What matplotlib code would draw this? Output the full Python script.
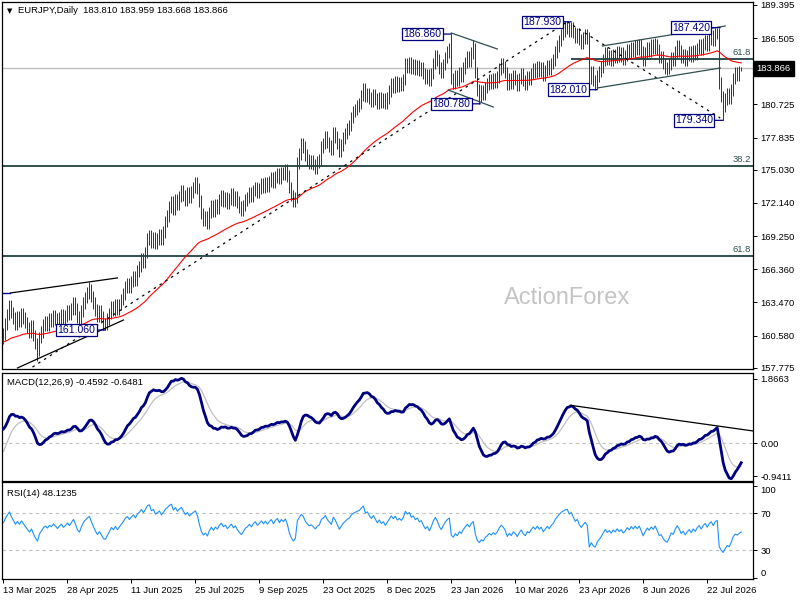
import numpy as np
import matplotlib
matplotlib.use("Agg")
import matplotlib.pyplot as plt
import matplotlib.transforms as mtransforms

plt.rcParams['font.family'] = ['Liberation Sans', 'DejaVu Sans']

# ---------------- data ----------------
title_text = "EURJPY,Daily  183.810 183.959 183.668 183.866"
macd_text = "MACD(12,26,9) -0.4592 -0.6481"
rsi_text = "RSI(14) 48.1235"
last_ohlc = [183.810, 183.959, 183.668, 183.866]
prev_close = 160.3

closes = [
    160.7, 161.6, 162.4, 163.2, 162.6, 162.1, 161.6, 162.2, 161.8, 162.5, 162.1, 161.7, 161.3, 160.9, 161.4, 160.6, 159.9, 159.3, 160.4, 160.9,
    161.5, 161.8, 161.5, 162.0, 161.8, 162.3, 162.0, 161.7, 162.1, 162.4, 162.0, 162.3, 162.7, 162.4, 162.9, 163.4, 162.9, 162.2, 161.9, 162.7,
    163.4, 163.9, 164.3, 164.6, 164.0, 163.4, 162.8, 162.3, 162.7, 162.2, 161.6, 161.5, 162.0, 162.5, 163.1, 162.8, 163.3, 162.9, 163.3, 163.7,
    164.2, 164.8, 165.1, 164.8, 165.3, 165.7, 165.4, 166.2, 166.6, 167.3, 167.0, 167.8, 169.0, 169.3, 168.7, 169.1, 168.6, 169.0, 169.4, 169.0,
    169.6, 170.5, 171.0, 171.8, 172.2, 171.6, 172.4, 172.0, 172.7, 173.2, 172.8, 172.4, 173.0, 172.6, 173.1, 173.5, 173.9, 173.4, 172.3, 171.2,
    170.6, 170.9, 170.4, 171.3, 171.9, 171.4, 172.0, 171.7, 172.4, 172.8, 172.3, 172.6, 172.1, 172.5, 172.9, 172.4, 172.7, 172.2, 171.8, 171.5,
    171.9, 172.4, 172.6, 173.0, 172.7, 173.2, 173.5, 173.1, 173.4, 173.8, 173.5, 173.9, 173.6, 174.0, 174.3, 173.9, 174.4, 174.7, 174.3, 174.8,
    174.6, 175.0, 174.5, 173.5, 172.8, 172.3, 172.6, 175.6, 176.4, 177.3, 177.0, 176.3, 175.9, 175.6, 175.8, 175.5, 175.2, 175.7, 175.9, 177.0,
    177.3, 177.9, 177.4, 177.1, 176.8, 178.3, 177.9, 177.3, 176.6, 177.2, 177.8, 178.2, 178.6, 178.9, 179.6, 180.1, 180.3, 180.6, 180.8, 181.5,
    182.1, 181.4, 181.7, 181.3, 181.0, 181.6, 181.2, 180.8, 181.3, 180.9, 181.2, 180.8, 181.3, 181.9, 182.5, 182.2, 182.7, 182.3, 182.6, 182.4,
    182.9, 184.3, 184.0, 184.4, 183.9, 184.2, 183.8, 184.1, 183.7, 183.9, 183.4, 183.0, 183.3, 182.8, 183.4, 184.3, 185.0, 184.6, 183.9, 183.5,
    184.2, 184.8, 185.3, 185.6, 183.0, 182.6, 183.2, 182.8, 183.5, 183.2, 183.9, 184.4, 184.9, 184.5, 185.2, 185.6, 183.5, 182.0, 181.4, 181.9,
    181.6, 182.2, 182.5, 182.9, 182.6, 183.0, 182.7, 183.1, 183.8, 184.3, 184.0, 183.5, 182.5, 183.0, 182.6, 183.2, 182.9, 182.4, 183.0, 183.4,
    182.8, 182.5, 183.1, 182.9, 183.4, 183.8, 183.5, 184.0, 183.6, 183.9, 183.3, 183.7, 184.1, 183.8, 184.3, 184.6, 185.3, 185.8, 186.3, 186.8,
    187.1, 187.4, 187.5, 187.1, 187.4, 187.0, 186.6, 186.9, 186.4, 186.1, 186.5, 186.8, 186.5, 183.0, 183.6, 182.8, 182.5, 183.2, 183.6, 184.0,
    184.6, 185.2, 184.7, 185.0, 184.6, 185.1, 184.8, 185.3, 184.9, 185.2, 184.7, 185.0, 185.5, 185.2, 185.7, 185.4, 185.8, 185.5, 185.9, 185.3,
    184.6, 185.2, 185.7, 185.4, 185.9, 185.6, 186.1, 185.5, 184.8, 184.9, 184.3, 183.9, 183.7, 184.2, 184.8, 184.6, 185.3, 185.8, 185.4, 184.8,
    185.1, 184.6, 185.0, 185.3, 184.9, 185.4, 185.1, 185.6, 185.9, 185.5, 186.0, 186.3, 185.9, 186.4, 186.7, 186.3, 186.9, 187.1, 182.6, 181.4,
    180.6, 181.2, 181.7, 181.3, 182.0, 183.0, 183.5, 183.3, 183.6, 183.866,
]
bar_pad = 0.5

swing_high_idx = [43, 224, 235, 282, 326, 357]
swing_high_val = [165.25, 186.86, 186.30, 187.93, 186.50, 187.42]
swing_low_idx = [17, 51, 238, 296, 332, 360]
swing_low_val = [158.40, 161.06, 180.78, 182.01, 183.30, 179.34]

label_idx = [51, 224, 238.5, 284, 297, 358.5, 360]
label_price = [161.06, 186.86, 180.78, 187.93, 182.01, 187.42, 179.34]
label_text = ["161.060", "186.860", "180.780", "187.930", "182.010", "187.420", "179.340"]

price_ticks = [189.395, 186.505, 180.725, 177.835, 175.030, 172.140, 169.250, 166.360, 163.470, 160.580, 157.775]
current_price = 183.866

fib_levels = [184.72, 175.36, 167.51]
fib_text = ["61.8", "38.2", "61.8"]
fib_start = [284, -0.75, -0.75]

solid_black_lines = [([3.5, 57], [164.29, 165.6]), ([7, 60], [157.75, 161.93])]
dashed_black_lines = [([14.5, 282], [157.83, 187.93]), ([282, 358.5], [187.93, 179.54])]
slate_lines = [([224, 247], [186.95, 185.56]), ([222.5, 245], [181.98, 180.50]),
               ([299.5, 361], [185.82, 187.56]), ([297, 358.5], [182.16, 183.90])]
navy_lines = [([-0.75, 3.5], [164.27, 164.27])]

macd_trend_x = [283.5, 375.0]
macd_trend_y = [1.10, 0.36]

date_labels = ["13 Mar 2025", "28 Apr 2025", "11 Jun 2025", "25 Jul 2025", "9 Sep 2025", "23 Oct 2025",
               "8 Dec 2025", "23 Jan 2026", "10 Mar 2026", "23 Apr 2026", "8 Jun 2026", "22 Jul 2026"]
date_step = 32

ma_period, ma_seed = 55, 160.0
fast, slow, sig = 12, 26, 9
fast_seed, slow_seed, sig_seed = 160.1, 159.7, -0.39
rsi_period, rsi_gain_seed, rsi_loss_seed = 14, 0.30, 0.22

macd_ticks = [1.8663, 0.0, -0.9411]
macd_tick_text = ["1.8663", "0.00", "-0.9411"]
rsi_ticks = [100, 70, 30, 0]
rsi_levels = [70, 30]

# ---------------- derived series ----------------
c = np.array(closes, dtype=float)
N = len(c)
x = np.arange(N)
o = np.r_[prev_close, c[:-1]]
o[-1] = last_ohlc[0]
h = np.maximum(o, c) + bar_pad
l = np.minimum(o, c) - bar_pad
for idx, v in zip(swing_high_idx, swing_high_val):
    for j in range(max(0, idx - 4), min(N, idx + 5)):
        h[j] = min(h[j], v - 0.04)
    h[idx] = v
for idx, v in zip(swing_low_idx, swing_low_val):
    for j in range(max(0, idx - 4), min(N, idx + 5)):
        l[j] = max(l[j], v + 0.04)
    l[idx] = v
h[-1], l[-1] = last_ohlc[1], last_ohlc[2]
h = np.maximum(h, np.maximum(o, c))
l = np.minimum(l, np.minimum(o, c))


def ema(vals, n, seed):
    a = 2.0 / (n + 1)
    out, e = [], seed
    for v in vals:
        e = e + a * (v - e)
        out.append(e)
    return np.array(out)


ma = ema(c, ma_period, ma_seed)
macd = ema(c, fast, fast_seed) - ema(c, slow, slow_seed)
signal = ema(macd, sig, sig_seed)

ag, al = rsi_gain_seed, rsi_loss_seed
rsi = []
prev = prev_close
for v in c:
    d = v - prev
    ag = (ag * (rsi_period - 1) + max(d, 0)) / rsi_period
    al = (al * (rsi_period - 1) + max(-d, 0)) / rsi_period
    rsi.append(100 - 100 / (1 + ag / al))
    prev = v
rsi = np.array(rsi)

# ---------------- figure ----------------
fig = plt.figure(figsize=(8, 6), dpi=100)
L, W = 0.0025, 0.939
ax1 = fig.add_axes([L, 0.3845, W, 0.6127])
ax2 = fig.add_axes([L, 0.1988, W, 0.1800])
ax3 = fig.add_axes([L, 0.0355, W, 0.1612])

xl = (-0.75, 375.0)
bar_color = "#17455f"
fs = 6.8

for ax in (ax1, ax2, ax3):
    ax.set_xlim(*xl)
    ax.set_facecolor("white")
    for s in ax.spines.values():
        s.set_color("black")
        s.set_linewidth(0.9)
    ax.yaxis.tick_right()
    ax.tick_params(axis="y", which="both", left=False, right=True, labelleft=False, labelright=True,
                   length=3, width=0.7, pad=2, labelsize=fs, direction="out", colors="black")
    ax.tick_params(axis="x", bottom=False, labelbottom=False)

# main panel
ax1.set_ylim(157.634, 189.683)
ax1.text(282, 163.85, "ActionForex", ha="center", va="center", fontsize=17, color="#c4c4c4", zorder=0)
ax1.axhline(current_price, color="#c0c0c0", lw=1.0, zorder=1)
for lev, txt, st in zip(fib_levels, fib_text, fib_start):
    ax1.hlines(lev, st, xl[1], color="#2f4f4f", lw=1.4, zorder=1)
    ax1.text(374.0, lev + 0.18, txt, ha="right", va="bottom", fontsize=fs, color="#2f4f4f")
ax1.vlines(x, l, h, color=bar_color, lw=0.72, zorder=3)
ax1.plot(x, ma, color="#ff0000", lw=0.8, zorder=4)
for xs, ys in solid_black_lines:
    ax1.plot(xs, ys, color="black", lw=0.9, zorder=5)
for xs, ys in dashed_black_lines:
    ax1.plot(xs, ys, color="black", lw=0.9, dashes=(2, 3.5), zorder=5)
for xs, ys in slate_lines:
    ax1.plot(xs, ys, color="#2f4f4f", lw=0.9, zorder=5)
for xs, ys in navy_lines:
    ax1.plot(xs, ys, color="#000080", lw=1.0, zorder=5)
for xi, p, t in zip(label_idx, label_price, label_text):
    ax1.annotate(t, xy=(xi, p), xytext=(-10, 0), textcoords="offset pixels", ha="right", va="center",
                 fontsize=7.6, color="#000080", zorder=6,
                 bbox=dict(boxstyle="square,pad=0.12", fc="white", ec="#000080", lw=0.9),
                 arrowprops=dict(arrowstyle="-", color="#000080", lw=0.9, shrinkA=0, shrinkB=0))
ax1.set_yticks(price_ticks)
ax1.set_yticklabels([f"{p:.3f}" for p in price_ticks])
tr = mtransforms.blended_transform_factory(ax1.transAxes, ax1.transData)
ax1.text(1.0045, current_price, f"{current_price:.3f}", transform=tr, ha="left", va="center", color="white",
         fontsize=fs, clip_on=False, zorder=10,
         bbox=dict(boxstyle="square,pad=0.32", fc="black", ec="black"))
ax1.text(0.0106, 0.9747, "\u25BC", transform=ax1.transAxes, ha="center", va="center", fontsize=5,
         family="DejaVu Sans", color="black")
ax1.text(0.0213, 0.9747, title_text, transform=ax1.transAxes, ha="left", va="center", fontsize=fs, color="black")

# MACD panel
ax2.set_ylim(-0.9411 - 0.13, 1.8663 + 0.17)
ax2.axhline(0, color="#c0c0c0", lw=0.8, dashes=(3, 3), zorder=1)
ax2.plot(x, signal, color="#c0c0c0", lw=0.9, zorder=2)
ax2.plot(x, macd, color="#000080", lw=2.0, zorder=3)
ax2.plot(macd_trend_x, macd_trend_y, color="black", lw=0.9, zorder=4)
ax2.set_yticks(macd_ticks)
ax2.set_yticklabels(macd_tick_text)
ax2.text(0.0067, 0.914, macd_text, transform=ax2.transAxes, ha="left", va="center", fontsize=fs)

# RSI panel
ax3.set_ylim(-0.7, 104)
for lev in rsi_levels:
    ax3.axhline(lev, color="#c0c0c0", lw=0.8, dashes=(3, 3), zorder=1)
ax3.plot(x, rsi, color="#1e90ff", lw=0.8, zorder=2)
ax3.set_yticks(rsi_ticks)
ax3.set_yticklabels([str(v) for v in rsi_ticks])
rl = ax3.get_yticklabels()
rl[0].set_va("top")
rl[-1].set_va("bottom")
ax3.text(0.0067, 0.886, rsi_text, transform=ax3.transAxes, ha="left", va="center", fontsize=fs)
ax3.set_xticks(np.arange(len(date_labels)) * date_step)
ax3.set_xticklabels(date_labels)
ax3.tick_params(axis="x", bottom=True, labelbottom=True, length=3, width=0.7, pad=2, labelsize=fs, direction="out")
for t in ax3.get_xticklabels():
    t.set_ha("left")

fig.savefig("out.png", dpi=100, facecolor="white")
